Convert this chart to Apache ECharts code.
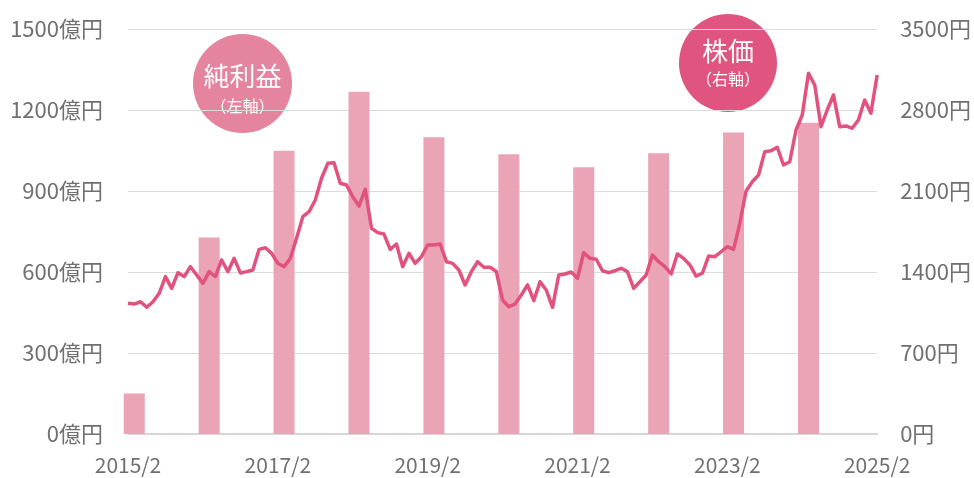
<!DOCTYPE html>
<html>
<head>
<meta charset="utf-8">
<script src="https://cdn.jsdelivr.net/npm/echarts@6/dist/echarts.min.js"></script>
<style>
  html, body { margin: 0; padding: 0; background: #fff; }
  #chart { width: 974px; height: 478px; }
</style>
</head>
<body>
<div id="chart"></div>
<script>
// monthly stock price (円), 2015/2 .. 2025/2
var stockPrices = [
  1130, 1123, 1143, 1095, 1143, 1216, 1360, 1259, 1394, 1360,
  1446, 1374, 1302, 1403, 1360, 1504, 1403, 1518, 1392, 1403,
  1417, 1596, 1610, 1562, 1475, 1446, 1518, 1691, 1878, 1921,
  2022, 2210, 2339, 2345, 2167, 2152, 2051, 1970, 2115, 1778,
  1740, 1728, 1596, 1642, 1446, 1562, 1475, 1532, 1633, 1633,
  1642, 1489, 1475, 1417, 1288, 1403, 1489, 1441, 1441, 1404,
  1158, 1100, 1123, 1201, 1288, 1152, 1316, 1244, 1095, 1374,
  1383, 1400, 1346, 1567, 1518, 1510, 1411, 1394, 1411, 1432,
  1403, 1259, 1316, 1374, 1547, 1489, 1446, 1383, 1556, 1518,
  1461, 1365, 1389, 1538, 1532, 1575, 1619, 1596, 1821, 2100,
  2180, 2238, 2440, 2448, 2478, 2325, 2353, 2627, 2757, 3117,
  3016, 2656, 2800, 2930, 2656, 2662, 2642, 2714, 2886, 2772,
  3102
];

// net profit (億円), one bar per fiscal year
var profitMonths = ['2015/3', '2016/3', '2017/3', '2018/3', '2019/3', '2020/3', '2021/3', '2022/3', '2023/3', '2024/3'];
var profitValues = [150, 728, 1049, 1268, 1099, 1036, 988, 1040, 1117, 1153];

var xTickLabels = ['2015/2', '2017/2', '2019/2', '2021/2', '2023/2', '2025/2'];

// month categories
var months = [];
for (var i = 0; i < stockPrices.length; i++) {
  var m = 1 + i;
  months.push((2015 + Math.floor(m / 12)) + '/' + ((m % 12) + 1));
}

var profitData = months.map(function (mo) {
  var k = profitMonths.indexOf(mo);
  return k >= 0 ? profitValues[k] : '-';
});

var labelFont = 'Noto Sans CJK JP';
var labelColor = '#707070';

var chart = echarts.init(document.getElementById('chart'));
chart.setOption({
  animation: false,
  grid: { left: 128, right: 96, top: 29, bottom: 44 },
  xAxis: {
    type: 'category',
    data: months,
    boundaryGap: false,
    axisLine: { lineStyle: { color: '#d6d6d6', width: 2 } },
    axisTick: { show: false },
    axisLabel: {
      interval: function (idx, val) { return xTickLabels.indexOf(val) >= 0; },
      color: labelColor,
      fontFamily: labelFont,
      fontSize: 21,
      margin: 21
    },
    splitLine: { show: false }
  },
  yAxis: [{
    type: 'value',
    min: 0,
    max: 1500,
    interval: 300,
    axisLine: { show: false },
    axisTick: { show: false },
    axisLabel: {
      formatter: function (v) { return v + '億円'; },
      color: labelColor,
      fontFamily: labelFont,
      fontSize: 22,
      margin: 25
    },
    splitLine: { lineStyle: { color: '#dcdcdc', width: 1 } }
  }, {
    type: 'value',
    min: 0,
    max: 3500,
    interval: 700,
    axisLine: { show: false },
    axisTick: { show: false },
    axisLabel: {
      formatter: function (v) { return v + '円'; },
      color: labelColor,
      fontFamily: labelFont,
      fontSize: 22,
      margin: 23
    },
    splitLine: { show: false }
  }],
  series: [{
    name: '純利益',
    type: 'bar',
    yAxisIndex: 0,
    barWidth: 21,
    itemStyle: { color: '#eaa4b6' },
    data: profitData,
    z: 2
  }, {
    name: '株価',
    type: 'line',
    yAxisIndex: 1,
    symbol: 'none',
    lineStyle: { color: '#e2527f', width: 3.5, join: 'round' },
    data: stockPrices,
    z: 3
  }],
  graphic: [{
    type: 'group',
    left: 193,
    top: 34,
    children: [{
      type: 'circle',
      shape: { cx: 49.5, cy: 49.5, r: 49.5 },
      style: { fill: '#e4849e' }
    }, {
      type: 'text',
      x: 49.5, y: 42,
      style: { text: '純利益', fill: '#fff', font: '26px "Noto Sans CJK JP"', align: 'center', verticalAlign: 'middle' }
    }, {
      type: 'text',
      x: 49.5, y: 72,
      style: { text: '（左軸）', fill: '#fff', font: '16px "Noto Sans CJK JP"', align: 'center', verticalAlign: 'middle' }
    }]
  }, {
    type: 'group',
    left: 679,
    top: 14,
    children: [{
      type: 'circle',
      shape: { cx: 49, cy: 49, r: 49 },
      style: { fill: '#e0557f' }
    }, {
      type: 'text',
      x: 49, y: 37,
      style: { text: '株価', fill: '#fff', font: '26px "Noto Sans CJK JP"', align: 'center', verticalAlign: 'middle' }
    }, {
      type: 'text',
      x: 49, y: 65,
      style: { text: '（右軸）', fill: '#fff', font: '16px "Noto Sans CJK JP"', align: 'center', verticalAlign: 'middle' }
    }]
  }]
});
</script>
</body>
</html>
